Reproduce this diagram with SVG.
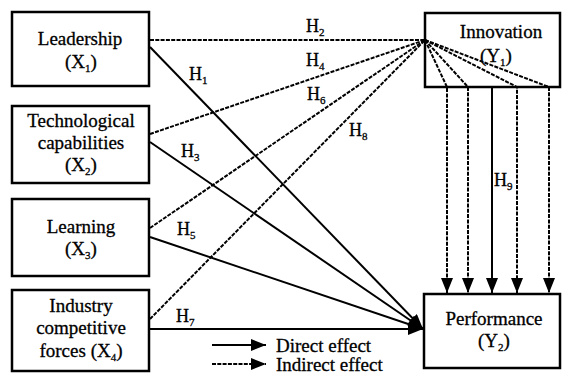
<svg xmlns="http://www.w3.org/2000/svg" width="562" height="374" viewBox="0 0 562 374">
<defs>
<marker id="ah" viewBox="0 0 15 12" refX="15" refY="6" markerWidth="15" markerHeight="12" markerUnits="userSpaceOnUse" orient="auto">
<path d="M0,0 L15,6 L0,12 Z" fill="#000"/>
</marker>
</defs>
<style>
.box{fill:#fff;stroke:#000;stroke-width:2.5}
.solid{fill:none;stroke:#000;stroke-width:2}
.dot{fill:none;stroke:#000;stroke-width:2;stroke-dasharray:4 1.3}
text{fill:#000;stroke:#000;stroke-width:0.3}
</style>
<rect width="562" height="374" fill="#fff"/>
<g id="connectors">
<line class="dot" x1="150" y1="40" x2="425" y2="40"/>
<line class="dot" x1="150" y1="134" x2="425" y2="40"/>
<line class="dot" x1="150" y1="228" x2="425" y2="40"/>
<line class="dot" x1="150" y1="319" x2="425" y2="40"/>
<line class="solid" x1="150" y1="47" x2="423" y2="329" marker-end="url(#ah)"/>
<line class="solid" x1="150" y1="142" x2="423" y2="329" marker-end="url(#ah)"/>
<line class="solid" x1="150" y1="237" x2="423" y2="329" marker-end="url(#ah)"/>
<line class="solid" x1="150" y1="329" x2="423" y2="329" marker-end="url(#ah)"/>
<polyline class="dot" points="425,40 447,87 447,293" marker-end="url(#ah)"/>
<polyline class="dot" points="425,40 468,87 468,293" marker-end="url(#ah)"/>
<line class="solid" x1="492" y1="87" x2="492" y2="293" marker-end="url(#ah)"/>
<polyline class="dot" points="425,40 517,87 517,293" marker-end="url(#ah)"/>
<polyline class="dot" points="425,40 549,87 549,293" marker-end="url(#ah)"/>
<text font-family="Liberation Serif" font-size="18" x="306" y="32">H<tspan font-size="11" dy="4">2</tspan></text>
<text font-family="Liberation Serif" font-size="18" x="306" y="66">H<tspan font-size="11" dy="4">4</tspan></text>
<text font-family="Liberation Serif" font-size="18" x="189" y="80">H<tspan font-size="11" dy="4">1</tspan></text>
<text font-family="Liberation Serif" font-size="18" x="307" y="100">H<tspan font-size="11" dy="4">6</tspan></text>
<text font-family="Liberation Serif" font-size="18" x="349" y="136">H<tspan font-size="11" dy="4">8</tspan></text>
<text font-family="Liberation Serif" font-size="18" x="181" y="157">H<tspan font-size="11" dy="4">3</tspan></text>
<text font-family="Liberation Serif" font-size="18" x="177" y="235">H<tspan font-size="11" dy="4">5</tspan></text>
<text font-family="Liberation Serif" font-size="18" x="176" y="322">H<tspan font-size="11" dy="4">7</tspan></text>
<text font-family="Liberation Serif" font-size="18" x="494" y="186">H<tspan font-size="11" dy="4">9</tspan></text>
</g>
<g id="leadership">
<rect class="box" x="12" y="12" width="137" height="74"/>
<text font-family="Liberation Serif" font-size="19" x="80" y="45" text-anchor="middle">Leadership</text>
<text font-family="Liberation Serif" font-size="19" x="81" y="68" text-anchor="middle">(X<tspan font-size="11" dy="4">1</tspan><tspan dy="-4">)</tspan></text>
</g>
<g id="technological">
<rect class="box" x="12" y="106" width="137" height="77"/>
<text font-family="Liberation Serif" font-size="19" x="81" y="127" text-anchor="middle">Technological</text>
<text font-family="Liberation Serif" font-size="19" x="81" y="149" text-anchor="middle">capabilities</text>
<text font-family="Liberation Serif" font-size="19" x="81" y="171" text-anchor="middle">(X<tspan font-size="11" dy="4">2</tspan><tspan dy="-4">)</tspan></text>
</g>
<g id="learning">
<rect class="box" x="12" y="199" width="137" height="77"/>
<text font-family="Liberation Serif" font-size="19" x="81" y="233" text-anchor="middle">Learning</text>
<text font-family="Liberation Serif" font-size="19" x="81" y="255" text-anchor="middle">(X<tspan font-size="11" dy="4">3</tspan><tspan dy="-4">)</tspan></text>
</g>
<g id="industry">
<rect class="box" x="12" y="290" width="137" height="81"/>
<text font-family="Liberation Serif" font-size="19" x="81" y="312" text-anchor="middle">Industry</text>
<text font-family="Liberation Serif" font-size="19" x="81" y="334" text-anchor="middle">competitive</text>
<text font-family="Liberation Serif" font-size="19" x="81" y="357" text-anchor="middle">forces (X<tspan font-size="11" dy="4">4</tspan><tspan dy="-4">)</tspan></text>
</g>
<g id="innovation">
<rect class="box" x="425" y="13" width="135" height="74" style="fill:none"/>
<text font-family="Liberation Serif" font-size="19" x="501" y="38" text-anchor="middle">Innovation</text>
<text font-family="Liberation Serif" font-size="19" x="496" y="62" text-anchor="middle">(Y<tspan font-size="11" dy="4">1</tspan><tspan dy="-4">)</tspan></text>
</g>
<g id="performance">
<rect class="box" x="424" y="294" width="136" height="74"/>
<text font-family="Liberation Serif" font-size="19" x="494" y="325" text-anchor="middle">Performance</text>
<text font-family="Liberation Serif" font-size="19" x="494" y="347" text-anchor="middle">(Y<tspan font-size="11" dy="4">2</tspan><tspan dy="-4">)</tspan></text>
</g>
<g id="legend">
<line class="solid" x1="212" y1="345" x2="266" y2="345" marker-end="url(#ah)"/>
<text font-family="Liberation Serif" font-size="19" x="276" y="352">Direct effect</text>
<line class="dot" x1="212" y1="364" x2="266" y2="364" marker-end="url(#ah)"/>
<text font-family="Liberation Serif" font-size="19" x="276" y="371">Indirect effect</text>
</g>
</svg>
